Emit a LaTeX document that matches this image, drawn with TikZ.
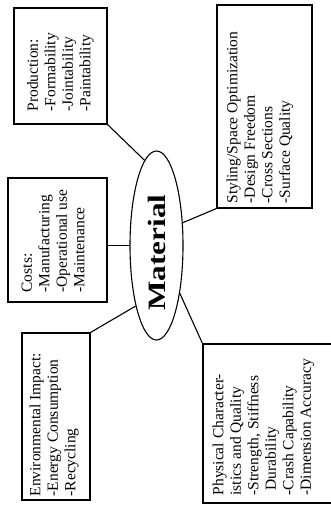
\documentclass[tikz,border=0pt]{standalone}
\usepackage{fontspec}
\setmainfont{Liberation Serif}
\usetikzlibrary{shapes.geometric}
\begin{document}
\begin{tikzpicture}[x=1pt,y=-1pt,
  box/.style={draw, line width=1.1pt, rectangle, inner sep=0pt},
  txt/.style={rotate=90, anchor=north west, inner sep=0pt, align=left,
    font=\fontsize{15.5}{17.5}\selectfont},
  link/.style={line width=1.1pt}]
\useasboundingbox (0,0) rectangle (331,505);
\clip (0,0) rectangle (331,505);
% boxes
\node[box, minimum width=93pt, minimum height=116pt] (prod) at (60.5,66) {};
\node[box, minimum width=95pt, minimum height=203pt] (sty) at (264.5,106.5) {};
\node[box, minimum width=99pt, minimum height=124pt] (cost) at (57.5,240) {};
\node[box, minimum width=68pt, minimum height=167pt] (env) at (56,416.5) {};
\node[box, minimum width=133pt, minimum height=159pt] (phys) at (269.5,423.5) {};
% texts
\node[txt] (prodt) at ([shift={(13.5,-13)}]prod.south west)
  {Production:\\-Formability\\-Jointability\\-Paintability};
\node[txt] (styt) at ([shift={(10,-5)}]sty.south west)
  {Styling/Space Optimization\\-Design Freedom\\-Cross Sections\\-Surface Quality};
\node[txt] (costt) at ([shift={(14,-10)}]cost.south west)
  {Costs:\\-Manufacturing\\-Operational use\\-Maintenance};
\node[txt] (envt) at ([shift={(8,-4)}]env.south west)
  {Environmental Impact:\\-Energy Consumption\\-Recycling};
\node[txt] (physt) at ([shift={(10,-8)}]phys.south west)
  {Physical Character-\\istics and Quality\\-Strength, Stiffness\\\hphantom{-}Durability\\-Crash Capability\\-Dimension Accuracy};
% ellipse
\node[ellipse, draw, line width=1.1pt, minimum width=53pt, minimum height=189pt, inner sep=0pt] (mat) at (156.5,245.5) {};
\node[rotate=90, inner sep=0pt, font=\fontsize{25}{25}\selectfont\bfseries] (matt) at (156.5,252.5)
  {\scalebox{1.25}[1]{Material}};
% connectors
\draw[link] (prod.south east) -- (mat.98.9);
\draw[link] (sty.south west) -- (mat.41.4);
\draw[link] (mat.west) -- (mat.west -| cost.east);
\draw[link] (env.north east) -- (mat.251.3);
\draw[link] (phys.north west) -- (mat.296.3);
\end{tikzpicture}
\end{document}
